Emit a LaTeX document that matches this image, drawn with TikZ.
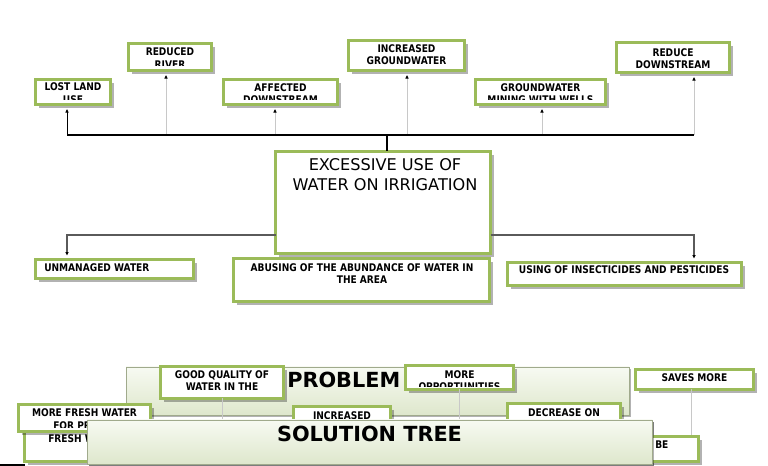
\documentclass[tikz,border=0pt]{standalone}
\usepackage{fontspec}
\setmainfont{DejaVu Sans}
\newfontfamily\lblfont{DejaVu Sans}[FakeStretch=0.86]
\usetikzlibrary{fit,shadows,arrows.meta}
\definecolor{gborder}{RGB}{155,187,89}
\definecolor{pborder}{RGB}{160,170,140}
\definecolor{ptop}{RGB}{247,250,242}
\definecolor{pbot}{RGB}{222,231,204}
\definecolor{lgrey}{RGB}{200,200,200}
\definecolor{dgrey}{RGB}{90,90,90}
\newcommand\gb[5]{\node[gbox,fit={(#2,#3) (#4,#5)}] (#1) {};}
\begin{document}
\begin{tikzpicture}[x=0.75pt,y=-0.75pt,
  gbox/.style={draw=gborder,line width=2.5pt,fill=white,inner sep=0pt,outer sep=0pt,
     drop shadow={shadow xshift=2.4pt,shadow yshift=-2.4pt,fill=black,opacity=0.3}},
  panel/.style={draw=pborder,line width=0.6pt,top color=ptop,bottom color=pbot,inner sep=0pt,outer sep=0pt,
     drop shadow={shadow xshift=1.5pt,shadow yshift=-1.5pt,fill=black,opacity=0.3}},
  lbl/.style={font=\lblfont\bfseries\fontsize{7.9}{9}\selectfont,inner sep=0pt,anchor=base},
  ttl/.style={font=\fontsize{12.1}{14}\selectfont,inner sep=0pt,anchor=base},
  big/.style={font=\bfseries\fontsize{15.6}{18}\selectfont,inner sep=0pt,anchor=base},
  bus/.style={draw=black,line width=0.8pt},
  upg/.style={draw=lgrey,line width=0.75pt,shorten >=3.5pt,-{Triangle[length=2.6pt,width=2.4pt,color=black]}},
  upk/.style={draw=black,line width=0.75pt,shorten >=3.5pt,-{Triangle[length=2.6pt,width=2.4pt]}},
  midc/.style={draw=dgrey,line width=0.9pt,shorten >=3pt,-{Triangle[length=2.6pt,width=2.4pt,color=black]}},
  thinc/.style={draw=lgrey,line width=0.6pt}]
\useasboundingbox (0,0) rectangle (768,466);

% ---------- top tree ----------
\gb{lost}{35.5}{79.5}{110.5}{104.5}
\node[lbl] (lostA) at (73,91) {LOST LAND};
\begin{scope}\clip (lost.north west) rectangle (lost.east |- 0,100);
\node[lbl] (lostB) at (73,104) {USE};\end{scope}

\gb{river}{128.5}{43.5}{211.5}{70.5}
\node[lbl] (riverA) at (170,56) {REDUCED};
\begin{scope}\clip (river.north west) rectangle (river.east |- 0,66);
\node[lbl] (riverB) at (170,69) {RIVER};\end{scope}

\gb{affected}{223.5}{79.5}{337.5}{104.5}
\node[lbl] (affA) at (280.5,92) {AFFECTED};
\begin{scope}\clip (affected.north west) rectangle (affected.east |- 0,100);
\node[lbl] (affB) at (280.5,104) {DOWNSTREAM};\end{scope}

\gb{incgw}{348.5}{40.5}{464.5}{70.5}
\node[lbl] (incA) at (406.5,53) {INCREASED};
\node[lbl] (incB) at (406.5,65) {GROUNDWATER};

\gb{mining}{475.5}{79.5}{605.5}{104.5}
\node[lbl] (minA) at (540.5,92) {GROUNDWATER};
\begin{scope}\clip (mining.north west) rectangle (mining.east |- 0,100);
\node[lbl] (minB) at (540.5,104) {MINING WITH WELLS};\end{scope}

\gb{reduce}{616.5}{42.5}{729.5}{72.5}
\node[lbl] (redA) at (673,57) {REDUCE};
\node[lbl] (redB) at (673,69) {DOWNSTREAM};

% centre
\gb{center}{275.5}{151.5}{490.5}{253.5}
\node[ttl] (cA) at (385,171) {EXCESSIVE USE OF};
\node[ttl] (cB) at (385,191) {WATER ON IRRIGATION};

% bus
\coordinate (k1) at (67,135);
\coordinate (k2) at (166,135);
\coordinate (k3) at (275,135);
\coordinate (k4) at (407,135);
\coordinate (k5) at (542,135);
\coordinate (k6) at (694,135);
\coordinate (kc) at (387,135);
\draw[upg] (k2) -- (k2 |- river.south);
\draw[upg] (k3) -- (k3 |- affected.south);
\draw[upg] (k4) -- (k4 |- incgw.south);
\draw[upg] (k5) -- (k5 |- mining.south);
\draw[upg] (k6) -- (k6 |- reduce.south);
\draw[bus] (k1) -- (k6);
\draw[bus] (kc) -- (kc |- center.north);
\draw[upk] (k1) -- (k1 |- lost.south);

% middle row
\gb{unmanaged}{35.5}{259.5}{193.5}{278.5}
\node[lbl,anchor=base west] (unA) at (44,272) {UNMANAGED WATER};

\gb{abusing}{233.5}{258.5}{489.5}{301.5}
\node[lbl] (abA) at (362,272) {ABUSING OF THE ABUNDANCE OF WATER IN};
\node[lbl] (abB) at (362,284) {THE AREA};

\gb{using}{507.5}{262.5}{741.5}{285.5}
\node[lbl] (usA) at (624,274) {USING OF INSECTICIDES AND PESTICIDES};

\coordinate (mL) at (67,235);
\coordinate (mR) at (694,235);
\draw[midc] (center.west |- mL) -- (mL) -- (mL |- unmanaged.north);
\draw[midc] (center.east |- mR) -- (mR) -- (mR |- using.north);

% ---------- bottom ----------
\node[panel,fit={(126,367) (629,415)}] (problem) {};
\node[big,anchor=base west] (probT) at (287,388) {PROBLEM};

\gb{good}{160.5}{366.5}{283.5}{398.5}
\gb{opport}{405.5}{365.5}{513.5}{389.5}
\gb{saves}{635.5}{369.5}{753.5}{389.5}
\node[panel,draw=none,fill=none,drop shadow={opacity=0},fit={(87,420) (652,464)}] (solgeom) {};
\draw[thinc] (good.south) -- (good.south |- solgeom.north);
\draw[thinc] (opport.south) -- (opport.south |- solgeom.north);
\draw[thinc] ([xshift=-2.2pt]saves.south) -- ([xshift=-2.2pt]saves.south |- 0,436);

\node[lbl] (goodA) at (222,379) {GOOD QUALITY OF};
\node[lbl] (goodB) at (222,391) {WATER IN THE};
\node[lbl] (oppA) at (459.5,379) {MORE};
\begin{scope}\clip (opport.north west) rectangle (opport.east |- 0,387);
\node[lbl] (oppB) at (459.5,391) {OPPORTUNITIES};\end{scope}
\node[lbl] (savA) at (694.5,382) {SAVES MORE};

\gb{increased}{293.5}{406.5}{390.5}{430}
\node[lbl] (incbA) at (342,420) {INCREASED};
\gb{decrease}{507.5}{403.5}{620.5}{430}
\node[lbl] (decA) at (564,417) {DECREASE ON};

\gb{freshw}{24.5}{431.5}{128.5}{461.5}
\node[lbl,anchor=base west] (frA) at (48,443) {FRESH WATER};

\gb{morefresh}{18.5}{404.5}{150.5}{431.5}
\node[lbl] (mfA) at (84.5,417) {MORE FRESH WATER};
\begin{scope}\clip (morefresh.north west) rectangle (morefresh.east |- 0,428);
\node[lbl,anchor=base west] (mfB) at (53,430) {FOR PR};\end{scope}

\gb{be}{601.5}{436.5}{698.5}{461.5}
\node[lbl,anchor=base west] (beA) at (655,449) {BE};

\node[panel,fit={(87,420) (652,464)}] (solution) {};
\node[big] (solT) at (369.5,442) {SOLUTION TREE};

\draw[line width=1.1pt] (0,465) -- (freshw.south west |- 0,465);
\end{tikzpicture}
\end{document}
